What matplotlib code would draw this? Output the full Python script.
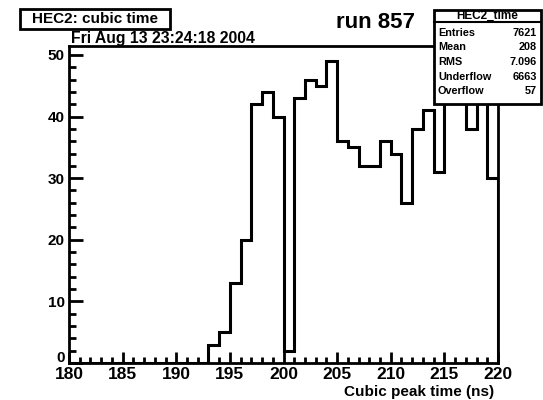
import numpy as np
import matplotlib
matplotlib.use("Agg")
import matplotlib.pyplot as plt
from matplotlib.patches import Rectangle
from matplotlib.ticker import MultipleLocator
import matplotlib.transforms as mtransforms

# ---- data ----
bin_edges = np.arange(180, 221, 1)
counts = [0, 0, 0, 0, 0, 0, 0, 0, 0, 0, 0, 0, 0,
          3, 5, 13, 20, 42, 44, 40, 2, 43, 46, 45, 49,
          36, 35, 32, 32, 36, 34, 26, 38, 41, 31, 47, 47, 38, 46, 30]
title_text = "HEC2: cubic time"
date_text = "Fri Aug 13 23:24:18 2004"
run_text = "run 857"
xlabel = "Cubic peak time (ns)"
stats_name = "HEC2_time"
stats_labels = ["Entries", "Mean", "RMS", "Underflow", "Overflow"]
stats_values = ["7621", "208", "7.096", "6663", "57"]

plt.rcParams['font.family'] = ['Liberation Sans', 'DejaVu Sans']
plt.rcParams['font.weight'] = 'bold'

W, H = 543, 400
fig = plt.figure(figsize=(W / 100, H / 100), dpi=100)
fig.patch.set_facecolor('white')

def fx(px):
    return px / W

def fy(py):
    return 1 - py / H

ax_l, ax_r, ax_t, ax_b = 69, 498, 46, 363
ax = fig.add_axes([fx(ax_l), fy(ax_b), fx(ax_r - ax_l), (ax_b - ax_t) / H])
ax.stairs(counts, bin_edges, color='black', linewidth=2.2)
ax.set_xlim(180, 220)
ax.set_ylim(0, 51.45)
for s in ax.spines.values():
    s.set_linewidth(2.0)
ax.xaxis.set_major_locator(MultipleLocator(5))
ax.xaxis.set_minor_locator(MultipleLocator(1))
ax.yaxis.set_major_locator(MultipleLocator(10))
ax.yaxis.set_minor_locator(MultipleLocator(2))
ax.tick_params(axis='x', which='major', direction='in', length=8, width=2,
               labelsize=12.5, pad=3, top=False)
ax.tick_params(axis='x', which='minor', direction='in', length=4, width=2, top=False)
ax.tick_params(axis='y', which='major', direction='in', length=10, width=2,
               labelsize=11, pad=3, right=False)
ax.tick_params(axis='y', which='minor', direction='in', length=5, width=2, right=False)
for lab in ax.get_xticklabels() + ax.get_yticklabels():
    lab.set_fontweight('bold')
fig.canvas.draw()
for lab in ax.get_yticklabels():
    if lab.get_text() == '0':
        lab.set_transform(lab.get_transform() +
                          mtransforms.ScaledTranslation(0, 6 / 100, fig.dpi_scale_trans))
ax.set_xlabel(xlabel, fontsize=11, fontweight='bold', loc='right', labelpad=2)
ax.xaxis.set_label_coords(0.99, -0.068)

# title box
fig.patches.append(Rectangle((fx(20), fy(29)), fx(150), 20 / H, transform=fig.transFigure,
                             facecolor='white', edgecolor='black', linewidth=2))
fig.text(fx(95), fy(19), title_text, ha='center', va='center', fontsize=11, fontweight='bold')

fig.text(fx(71), fy(38), date_text, ha='left', va='center', fontsize=11.3, fontweight='bold')
fig.text(fx(376), fy(23), run_text, ha='center', va='center', fontsize=16, fontweight='bold')

# stats box
bx0, bx1, by0, by1 = 434, 541, 10, 104
fig.patches.append(Rectangle((fx(bx0), fy(by1)), fx(bx1 - bx0), (by1 - by0) / H,
                             transform=fig.transFigure, facecolor='white',
                             edgecolor='black', linewidth=2, zorder=5))
fig.add_artist(plt.Line2D([fx(bx0), fx(bx1)], [fy(22), fy(22)], transform=fig.transFigure,
                          color='black', linewidth=1.5, zorder=6))
fig.text(fx((bx0 + bx1) / 2), fy(16), stats_name, ha='center', va='center',
         fontsize=8.5, fontweight='bold', zorder=7)
for i, (lab, val) in enumerate(zip(stats_labels, stats_values)):
    yy = 33 + i * 14.5
    fig.text(fx(bx0 + 4), fy(yy), lab, ha='left', va='center', fontsize=7.8, fontweight='bold', zorder=7)
    fig.text(fx(bx1 - 4), fy(yy), val, ha='right', va='center', fontsize=7.8, fontweight='bold', zorder=7)

fig.savefig("out.png", dpi=100, facecolor='white')
